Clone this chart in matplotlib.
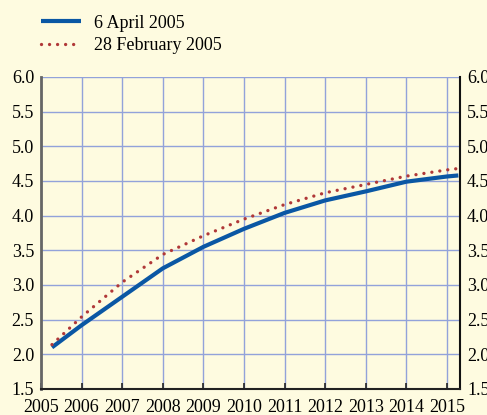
import numpy as np
import matplotlib
matplotlib.use("Agg")
import matplotlib.pyplot as plt

# values
years = [2005.27, 2006, 2007, 2008, 2009, 2010, 2011, 2012, 2013, 2014, 2015, 2015.28]
april = [2.10, 2.42, 2.83, 3.24, 3.55, 3.81, 4.04, 4.22, 4.35, 4.49, 4.565, 4.58]
february = [2.14, 2.54, 3.04, 3.44, 3.71, 3.95, 4.16, 4.33, 4.45, 4.57, 4.66, 4.68]
labels = ["6 April 2005", "28 February 2005"]
year_ticks = list(range(2005, 2016))
y_ticks = [1.5, 2.0, 2.5, 3.0, 3.5, 4.0, 4.5, 5.0, 5.5, 6.0]

bg = "#fefbe0"
plt.rcParams['font.family'] = ['Liberation Serif', 'DejaVu Serif']
plt.rcParams['font.size'] = 13

fig = plt.figure(figsize=(4.87, 4.15), dpi=100, facecolor=bg)
ax = fig.add_axes([0.0842, 0.0627, 0.8604, 0.7518], facecolor=bg)

ax.plot(years, april, color="#0a57a4", lw=3.0, solid_capstyle="butt", label=labels[0], zorder=3)
ax.plot(years, february, color="#b03838", lw=2.4, linestyle=(0, (0.01, 2.4)),
        dash_capstyle="round", label=labels[1], zorder=4)

ax.set_xlim(2005, 2015.32)
ax.set_ylim(1.5, 6.0)
ax.set_xticks(year_ticks)
ax.set_xticklabels([str(y) for y in year_ticks])
ax.set_yticks(y_ticks)
ax.set_yticklabels([f"{v:.1f}" for v in y_ticks])
ax.grid(True, color="#92a2da", lw=1.0)
ax.set_axisbelow(True)

ax.tick_params(axis="x", direction="in", length=4, width=1.2, color="#222222", pad=7)
ax.tick_params(axis="y", length=0, pad=5, labelright=True, right=False)

ax.spines["top"].set_visible(False)
ax.spines["left"].set_color("#666666")
ax.spines["left"].set_linewidth(2)
ax.spines["right"].set_color("#111111")
ax.spines["right"].set_linewidth(1.5)
ax.spines["bottom"].set_color("#222222")
ax.spines["bottom"].set_linewidth(1.5)

fig.legend(loc="upper left", bbox_to_anchor=(0.058, 0.995), frameon=False,
           handlelength=2.2, handletextpad=0.75, labelspacing=0.3, borderaxespad=0.3)

fig.savefig("out.png", dpi=100, facecolor=bg)
